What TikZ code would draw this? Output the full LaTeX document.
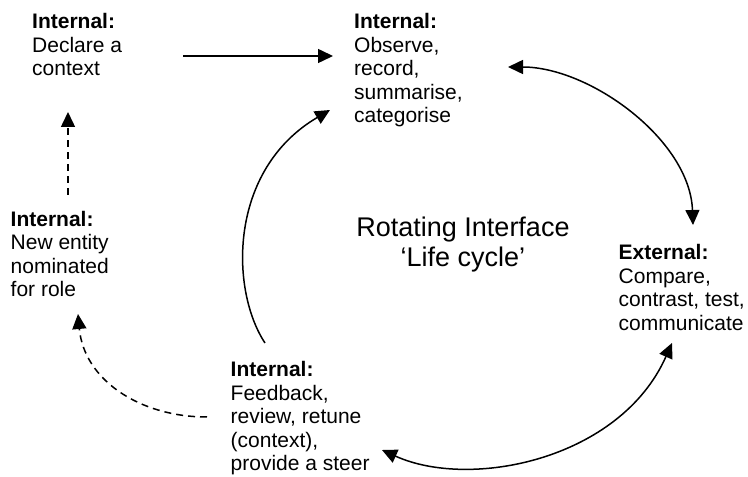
\documentclass[tikz,border=0pt]{standalone}
\usepackage{fontspec}
\setmainfont{Liberation Sans}
\usetikzlibrary{arrows.meta}
\begin{document}
\begin{tikzpicture}[x=1pt,y=1pt,
  lbl/.style={anchor=base west, align=left, inner sep=0pt, font=\fontsize{21}{23.5}\selectfont},
  ttl/.style={anchor=base, align=center, inner sep=0pt, font=\fontsize{27}{30}\selectfont},
  conn/.style={line width=1.5pt, -{Triangle[length=15pt,width=14pt]}},
  dconn/.style={conn, dash pattern=on 7pt off 5pt},
  bconn/.style={line width=1.5pt, {Triangle[length=15pt,width=14pt]}-{Triangle[length=15pt,width=14pt]}}]
\useasboundingbox (0,0) rectangle (748,477);

% nodes (anchored at the baseline of their last line)
\node[lbl] (declare) at (32,401) {\textbf{Internal:}\\Declare a\\context};
\node[lbl] (observe) at (354,354) {\textbf{Internal:}\\Observe,\\record,\\summarise,\\categorise};
\node[lbl] (external) at (618.5,146.5) {\textbf{External:}\\Compare,\\contrast, test,\\communicate};
\node[lbl] (feedback) at (230.5,6) {\textbf{Internal:}\\Feedback,\\review, retune\\(context),\\provide a steer};
\node[lbl] (newentity) at (10.5,180) {\textbf{Internal:}\\New entity\\nominated\\for role};
\node[ttl] (title) at (463,210) {Rotating Interface\\‘Life cycle’};

% connector end points
\coordinate (dOut) at (183,421);
\coordinate (oIn)  at (333,421);
\coordinate (oEnd) at (508,410);
\coordinate (eTop) at (693,252);
\coordinate (eBot) at (672,134);
\coordinate (fEnd) at (382,27);
\coordinate (fTop) at (265,134);
\coordinate (oBot) at (330,367);
\coordinate (fLeft) at (207,60);
\coordinate (nIn) at (78,163);
\coordinate (nTop) at (68,282);
\coordinate (dIn) at (68,365);

% connectors
\draw[conn] (dOut) -- (oIn);
\draw[bconn] (oEnd) .. controls (590,410) and (690,337) .. (eTop);
\draw[bconn] (eBot) .. controls (620,17) and (470,-13) .. (fEnd);
\draw[conn] (fTop) .. controls (230,187) and (228,307) .. (oBot);
\draw[dconn] (fLeft) .. controls (140,60) and (84,97) .. (nIn);
\draw[dconn] (nTop) -- (dIn);
\end{tikzpicture}
\end{document}
